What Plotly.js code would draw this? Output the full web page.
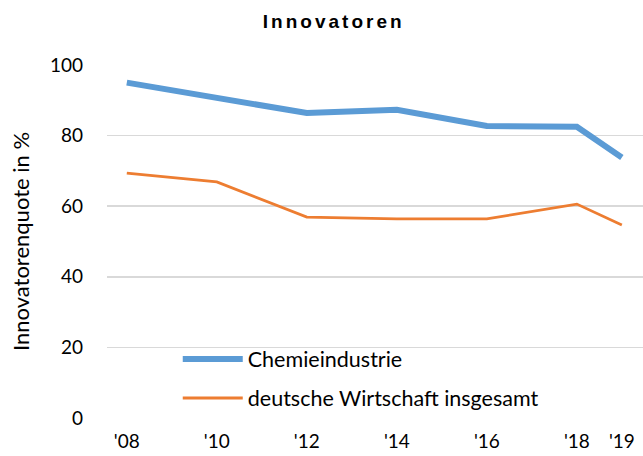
<!DOCTYPE html>
<html>
<head>
<meta charset="utf-8">
<script src="https://cdn.plot.ly/plotly-3.0.1.min.js"></script>
<style>html,body{margin:0;padding:0;background:#fff;}#chart{width:643px;height:456px;}
.gtitle{letter-spacing:3px;}</style>
</head>
<body>
<div id="chart"></div>
<script>
const years = [2008, 2010, 2012, 2014, 2016, 2018, 2019];
const tickLabels = ["'08", "'10", "'12", "'14", "'16", "'18", "'19"];
const chemie = [95.0, 90.8, 86.4, 87.3, 82.7, 82.5, 73.8];
const gesamt = [69.4, 66.9, 56.9, 56.4, 56.4, 60.6, 54.7];
const seriesNames = ["Chemieindustrie", "deutsche Wirtschaft insgesamt"];
const yTicks = [0, 20, 40, 60, 80, 100];

const font = "Lato, 'Open Sans', sans-serif";

const data = [
  {x: years, y: chemie, name: seriesNames[0], type: 'scatter', mode: 'lines',
   line: {color: '#5B9BD5', width: 6}, legendgroup: 'a'},
  {x: years, y: gesamt, name: seriesNames[1], type: 'scatter', mode: 'lines',
   line: {color: '#ED7D31', width: 2.8}, legendgroup: 'b'}
];

const layout = {
  width: 643, height: 456,
  margin: {l: 107, r: 0, t: 65, b: 38},
  paper_bgcolor: '#fff', plot_bgcolor: '#fff',
  title: {text: '<b>Innovatoren</b>', x: 0.519, xanchor: 'center', y: 0.954, yanchor: 'middle',
          font: {family: "'Liberation Sans', Arial, sans-serif", size: 19, color: '#000'}},
  xaxis: {range: [2007.56, 2019.47], tickmode: 'array', tickvals: years, ticktext: tickLabels,
          showgrid: false, zeroline: false, showline: false, ticks: '', ticklabelstandoff: 10,
          tickfont: {family: font, size: 19, color: '#000'}, fixedrange: true},
  yaxis: {range: [0, 100], tickmode: 'array', tickvals: yTicks, showgrid: true,
          gridcolor: '#d9d9d9', gridwidth: 1.5, zeroline: false, showline: false, ticks: '',
          ticklabelstandoff: 23, tickfont: {family: font, size: 19, color: '#000'},
          title: {text: 'Innovatorenquote in %', standoff: 14, font: {family: font, size: 22, color: '#000'}}},
  showlegend: true,
  legend: {x: 0.132, y: 0.225, xanchor: 'left', yanchor: 'top', bgcolor: 'rgba(0,0,0,0)',
           font: {family: font, size: 21.5, color: '#000'}, itemwidth: 60, tracegroupgap: 8}
};

Plotly.newPlot('chart', data, layout, {displayModeBar: false, staticPlot: true});
</script>
</body>
</html>
